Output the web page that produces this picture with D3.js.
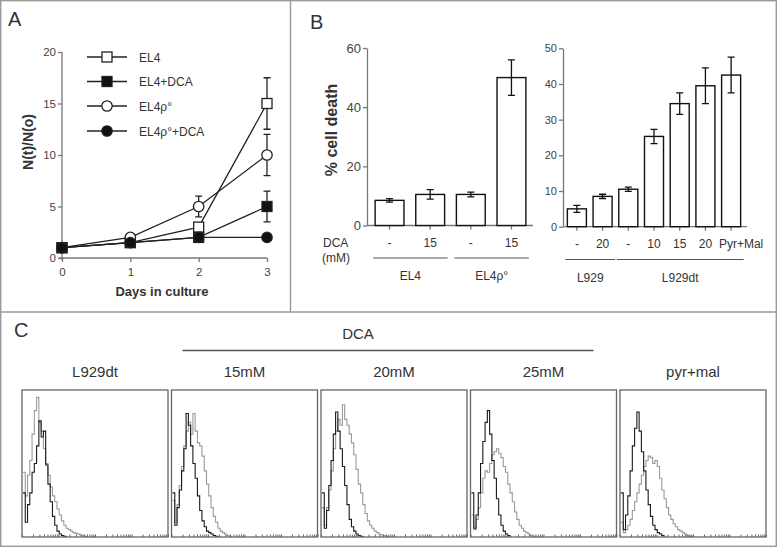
<!DOCTYPE html>
<html><head><meta charset="utf-8">
<script src="https://cdn.jsdelivr.net/npm/d3@7"></script>
<style>body{margin:0;background:#fff} svg{display:block;font-family:"Liberation Sans",Arial,sans-serif}</style>
</head><body><svg id="c" width="777" height="547"></svg>
<script>
// ---------- Panel A data ----------
const days = [0, 1, 2, 3];
const dayTicks = [0, 1, 2, 3];
const aTicks = [0, 5, 10, 15, 20];
const aNames = ["EL4", "EL4+DCA", "EL4\u03c1\u00b0", "EL4\u03c1\u00b0+DCA"];
const el4 = [1, 1.5, 3, 15];          const el4Err = [0.1, 0.2, 0.3, 2.5];
const el4Dca = [1, 1.5, 2, 5];        const el4DcaErr = [0.1, 0.1, 0.2, 1.5];
const el4Rho = [1, 2, 5, 10];         const el4RhoErr = [0.1, 0.2, 1, 2];
const el4RhoDca = [1, 1.5, 2, 2];     const el4RhoDcaErr = [0.1, 0.1, 0.2, 0.2];

// ---------- Panel B data ----------
const bLeftCats = ["EL4 -", "EL4 15", "rho -", "rho 15"];
const bLeftTickLabels = ["-", "15", "-", "15"];
const bLeftVals = [8.5, 10.5, 10.5, 50];
const bLeftErr = [0.6, 1.6, 0.8, 6];
const bLeftTicks = [0, 20, 40, 60];
const bLeftGroups = [{name: "EL4", from: 0, to: 1}, {name: "EL4\u03c1\u00b0", from: 2, to: 3}];

const bRightCats = ["L929 -", "L929 20", "dt -", "dt 10", "dt 15", "dt 20", "dt PM"];
const bRightTickLabels = ["-", "20", "-", "10", "15", "20", "Pyr+Mal"];
const bRightVals = [5, 8.5, 10.5, 25.3, 34.5, 39.5, 42.5];
const bRightErr = [1, 0.6, 0.6, 2, 3, 5, 5];
const bRightTicks = [0, 10, 20, 30, 40, 50];
const bRightGroups = [{name: "L929", from: 0, to: 1}, {name: "L929dt", from: 2, to: 6}];

// ---------- Panel C data (histogram heights, % of box height, per channel) ----------
const cTitles = ["L929dt", "15mM", "20mM", "25mM", "pyr+mal"];
const histCtrl = [
  [30, 10, 22, 30, 44, 50, 62, 79, 68, 72, 49, 36, 24, 14, 8, 4, 2, 1, 0.5, 0],
  [30, 8, 20, 32, 45, 60, 84, 76, 62, 50, 40, 28, 18, 11, 7, 4, 3, 2, 1, 0.5, 0],
  [30, 6, 18, 35, 52, 70, 85, 72, 60, 48, 35, 22, 12, 7, 4, 2, 1, 0.5, 0],
  [30, 6, 15, 30, 50, 65, 78, 86, 70, 52, 40, 26, 15, 8, 4, 2, 1, 0],
  [30, 5, 15, 28, 45, 62, 74, 85, 72, 58, 45, 32, 22, 14, 8, 5, 3, 2, 1, 0]
];
const histTreat = [
  [44, 28, 42, 52, 70, 86, 95, 78, 72, 60, 50, 42, 34, 28, 24, 19, 15, 11, 8, 6, 5, 4, 3, 2.5, 2, 1.5, 1, 0.5, 0],
  [25, 10, 22, 35, 48, 62, 72, 78, 70, 84, 72, 64, 62, 55, 45, 36, 28, 20, 14, 10, 6, 4, 3, 2, 1, 0.5, 0],
  [20, 8, 20, 32, 45, 60, 72, 80, 76, 90, 80, 76, 70, 64, 56, 46, 36, 30, 22, 16, 11, 8, 6, 4, 3, 2, 1.5, 1, 0.5, 0],
  [15, 5, 12, 20, 30, 40, 45, 44, 50, 56, 58, 60, 57, 54, 48, 44, 36, 30, 24, 17, 12, 8, 6, 4, 3, 2, 1, 0.5, 0],
  [10, 3, 5, 8, 12, 18, 24, 30, 36, 42, 48, 52, 55, 54, 50, 52, 48, 40, 32, 26, 20, 15, 12, 9, 7, 5, 4, 3, 2, 1, 0.5, 0]
];
const channels = 64;

const svg = d3.select("#c");
const frame = "#9a9a9a";
const textCol = "#333";
const axisCol = "#777";

// ---------- Frames ----------
const fr = svg.append("g").attr("stroke", frame).attr("stroke-width", 1.4).attr("fill", "none");
fr.append("rect").attr("x", 0.7).attr("y", 0.7).attr("width", 775.6).attr("height", 545.6);
fr.append("line").attr("x1", 290.5).attr("x2", 290.5).attr("y1", 0).attr("y2", 312);
fr.append("line").attr("x1", 0).attr("x2", 777).attr("y1", 312).attr("y2", 312);

function label(g, x, y, t, size, opts = {}) {
  return g.append("text").attr("x", x).attr("y", y).text(t)
    .attr("font-size", size).attr("fill", opts.fill || textCol)
    .attr("font-weight", opts.bold ? "bold" : "normal")
    .attr("text-anchor", opts.anchor || "start");
}
label(svg, 8, 26, "A", 20);
label(svg, 310, 29, "B", 20);
label(svg, 14, 337, "C", 20);

function styleAxis(g) {
  g.selectAll("path,line").attr("stroke", axisCol).attr("stroke-width", 1.3);
  g.selectAll("text").attr("fill", "#444");
}
const fmt = d3.format("d");

// ---------- Panel A ----------
const ax = d3.scaleLinear().domain([0, 3]).range([62, 267]);
const ay = d3.scaleLinear().domain([0, 20]).range([258, 52]);
const gA = svg.append("g");
const yAxA = gA.append("g").attr("transform", "translate(62,0)")
  .call(d3.axisLeft(ay).tickValues(aTicks).tickFormat(fmt).tickSize(4).tickSizeOuter(0).tickPadding(2));
yAxA.select(".domain").attr("d", "M0,52V260");
yAxA.selectAll("text").attr("font-size", 11.5).attr("font-family", "Liberation Sans, Arial");
styleAxis(yAxA);
const xAxA = gA.append("g").attr("transform", "translate(0,258)")
  .call(d3.axisBottom(ax).tickValues(dayTicks).tickFormat(fmt).tickSize(4).tickSizeOuter(0).tickPadding(6));
xAxA.select(".domain").attr("d", "M59,0H267");
xAxA.selectAll("text").attr("font-size", 11.5).attr("font-family", "Liberation Sans, Arial");
styleAxis(xAxA);
label(gA, 162, 296, "Days in culture", 13, {bold: true, anchor: "middle"});
label(gA, 0, 0, "N(t)/N(o)", 14, {bold: true, anchor: "middle"})
  .attr("transform", "translate(33,142) rotate(-90)");

const seriesA = [
  {vals: el4, err: el4Err, shape: "square", fill: "#fff"},
  {vals: el4Dca, err: el4DcaErr, shape: "square", fill: "#111"},
  {vals: el4Rho, err: el4RhoErr, shape: "circle", fill: "#fff"},
  {vals: el4RhoDca, err: el4RhoDcaErr, shape: "circle", fill: "#111"}
];
const lineA = d3.line().x((d, i) => ax(days[i])).y(d => ay(d));
seriesA.forEach(s => {
  gA.append("path").attr("d", lineA(s.vals)).attr("fill", "none").attr("stroke", "#222").attr("stroke-width", 1.3);
});
seriesA.forEach(s => {
  s.vals.forEach((v, i) => {
    const x = ax(days[i]), y1 = ay(v + s.err[i]), y2 = ay(v - s.err[i]);
    gA.append("path").attr("d", `M${x},${y1}V${y2}M${x-3.5},${y1}H${x+3.5}M${x-3.5},${y2}H${x+3.5}`)
      .attr("stroke", "#222").attr("stroke-width", 1.3).attr("fill", "none");
  });
});
function marker(g, shape, x, y, fill) {
  if (shape === "square") {
    return g.append("rect").attr("x", x - 5).attr("y", y - 5).attr("width", 10).attr("height", 10)
      .attr("fill", fill).attr("stroke", "#222").attr("stroke-width", 1.3);
  }
  return g.append("circle").attr("cx", x).attr("cy", y).attr("r", 5.2)
    .attr("fill", fill).attr("stroke", "#222").attr("stroke-width", 1.3);
}
seriesA.forEach(s => s.vals.forEach((v, i) => marker(gA, s.shape, ax(days[i]), ay(v), s.fill)));

// Legend
const legRows = [57, 81.5, 106, 131];
aNames.forEach((n, i) => {
  const y = legRows[i];
  gA.append("line").attr("x1", 87).attr("x2", 127).attr("y1", y).attr("y2", y).attr("stroke", "#222").attr("stroke-width", 1.3);
  marker(gA, seriesA[i].shape, 107, y, seriesA[i].fill);
  label(gA, 139, y + 4.5, n, 12);
});

// ---------- Panel B ----------
function barChart(cfg) {
  const g = svg.append("g");
  const y = d3.scaleLinear().domain(cfg.domain).range([cfg.y0, cfg.yTop]);
  const x = d3.scaleBand().domain(cfg.cats).range(cfg.xRange).paddingInner(cfg.pIn).paddingOuter(cfg.pOut);
  const yAx = g.append("g").attr("transform", `translate(${cfg.xRange[0]},0)`)
    .call(d3.axisLeft(y).tickValues(cfg.ticks).tickFormat(fmt).tickSize(4).tickSizeOuter(0).tickPadding(2));
  yAx.selectAll("text").attr("font-size", cfg.tickFont).attr("font-family", "Liberation Sans, Arial");
  styleAxis(yAx);
  const xAx = g.append("g").attr("transform", `translate(0,${cfg.y0})`)
    .call(d3.axisBottom(x).tickSize(4).tickSizeOuter(0).tickFormat((d, i) => cfg.tickLabels[i]).tickPadding(9));
  xAx.select(".domain").attr("d", `M${cfg.xRange[0]},0H${cfg.axisEnd}`);
  xAx.selectAll("text").attr("font-size", 12).attr("font-family", "Liberation Sans, Arial");
  styleAxis(xAx);
  xAx.selectAll("text").attr("fill", textCol);
  if (cfg.lastDx) xAx.selectAll("text").filter((d, i) => i === cfg.cats.length - 1).attr("dx", cfg.lastDx);
  cfg.vals.forEach((v, i) => {
    const c = cfg.cats[i];
    g.append("rect").attr("x", x(c)).attr("y", y(v)).attr("width", x.bandwidth()).attr("height", y(0) - y(v))
      .attr("fill", "#fff").attr("stroke", "#111").attr("stroke-width", 1.4);
    const cx = x(c) + x.bandwidth() / 2, e1 = y(v + cfg.err[i]), e2 = y(v - cfg.err[i]);
    g.append("path").attr("d", `M${cx},${e1}V${e2}M${cx-3.5},${e1}H${cx+3.5}M${cx-3.5},${e2}H${cx+3.5}`)
      .attr("stroke", "#111").attr("stroke-width", 1.3).attr("fill", "none");
  });
  cfg.groups.forEach(gr => {
    const x1 = x(cfg.cats[gr.from]) - 2, x2 = x(cfg.cats[gr.to]) + x.bandwidth() + 3;
    g.append("line").attr("x1", x1).attr("x2", x2).attr("y1", cfg.groupY).attr("y2", cfg.groupY)
      .attr("stroke", "#555").attr("stroke-width", 1.1);
    label(g, (x1 + x2) / 2, cfg.groupY + 22, gr.name, 12, {anchor: "middle"});
  });
  return g;
}
const gBL = barChart({
  cats: bLeftCats, tickLabels: bLeftTickLabels, vals: bLeftVals, err: bLeftErr, ticks: bLeftTicks,
  domain: [0, 60], y0: 225.5, yTop: 48, xRange: [367, 534], pIn: 0.29, pOut: 0.2, axisEnd: 533,
  tickFont: 13, groups: bLeftGroups, groupY: 258
});
label(gBL, 323, 247, "DCA", 12);
label(gBL, 322, 262, "(mM)", 12);
label(gBL, 0, 0, "% cell death", 16, {bold: true, anchor: "middle"}).attr("transform", "translate(337,130) rotate(-90)");
barChart({
  cats: bRightCats, tickLabels: bRightTickLabels, vals: bRightVals, err: bRightErr, ticks: bRightTicks,
  domain: [0, 50], y0: 226.7, yTop: 48.3, xRange: [563, 745], pIn: 0.26, pOut: 0.17, axisEnd: 747,
  tickFont: 11, groups: bRightGroups, groupY: 259.5, lastDx: 10
});

// ---------- Panel C ----------
const gC = svg.append("g");
const boxX = d3.scaleBand().domain(cTitles).range([22, 766]).paddingInner(0.0234);
const boxTop = 390, boxBot = 537;
const hy = d3.scaleLinear().domain([0, 100]).range([boxBot, boxTop]);
cTitles.forEach((t, k) => {
  const x0 = boxX(t), bw = boxX.bandwidth();
  label(gC, x0 + bw / 2, 377, t, 15, {anchor: "middle"});
  const hx = d3.scaleLinear().domain([0, channels]).range([x0 + 1, x0 + bw]);
  const ln = d3.line().x((d, i) => hx(i)).y(d => hy(d)).curve(d3.curveStepAfter);
  gC.append("path").attr("d", ln(histTreat[k])).attr("fill", "none").attr("stroke", "#9a9a9a").attr("stroke-width", 1.1);
  gC.append("path").attr("d", ln(histCtrl[k])).attr("fill", "none").attr("stroke", "#1a1a1a").attr("stroke-width", 1.1);
  const lx = d3.scaleLog().domain([1, 10000]).range([x0, x0 + bw]);
  const la = gC.append("g").attr("transform", `translate(0,${boxBot})`)
    .call(d3.axisBottom(lx).tickSize(-2.5).tickFormat(""));
  la.select(".domain").remove();
  la.selectAll("line").attr("stroke", "#666");
  gC.append("rect").attr("x", x0).attr("y", boxTop).attr("width", bw).attr("height", boxBot - boxTop)
    .attr("fill", "none").attr("stroke", "#666").attr("stroke-width", 1.3);
});
gC.append("line").attr("x1", boxX(cTitles[1]) + 11).attr("x2", boxX(cTitles[3]) + boxX.bandwidth() - 23)
  .attr("y1", 350.5).attr("y2", 350.5).attr("stroke", "#555").attr("stroke-width", 1.3);
label(gC, boxX(cTitles[2]) + 37, 339, "DCA", 15, {anchor: "middle"});
</script></body></html>
